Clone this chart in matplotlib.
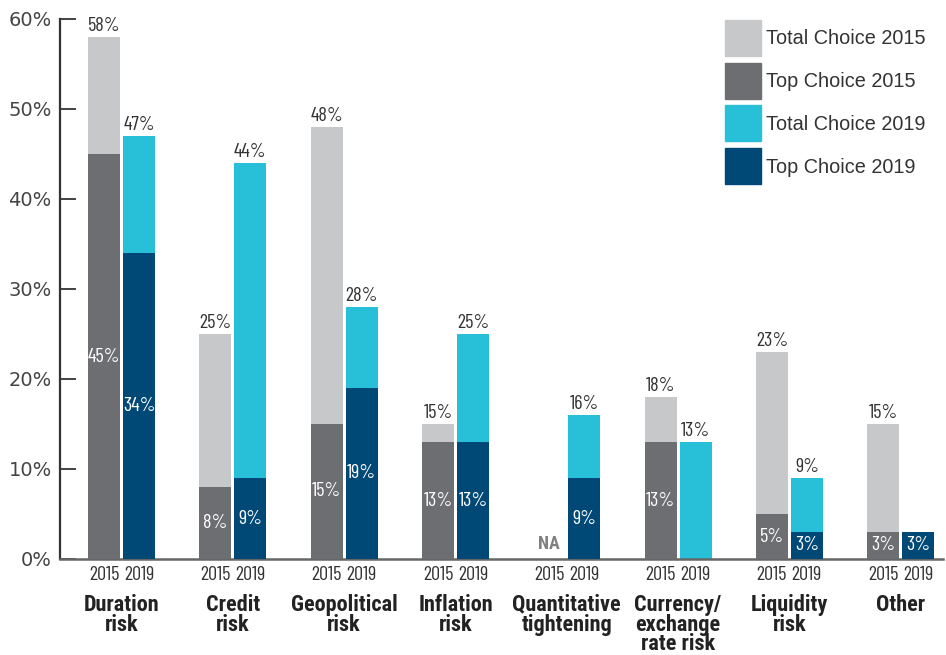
"""Risk concerns survey chart, 2015 vs 2019
"""
import matplotlib
matplotlib.use("Agg")
import matplotlib.pyplot as plt
from matplotlib import font_manager
from matplotlib.patches import Rectangle
import numpy as np

categories = ["Duration\nrisk", "Credit\nrisk", "Geopolitical\nrisk",
              "Inflation\nrisk", "Quantitative\ntightening",
              "Currency/\nexchange\nrate risk", "Liquidity\nrisk", "Other"]
years = ["2015", "2019"]
# None = no bar for that year
total_2015 = [58, 25, 48, 15, None, 18, 23, 15]
top_2015 = [45, 8, 15, 13, None, 13, 5, 3]
total_2019 = [47, 44, 28, 25, 16, 13, 9, None]
top_2019 = [34, 9, 19, 13, 9, None, 3, 3]
legend_labels = ["Total Choice 2015", "Top Choice 2015",
                 "Total Choice 2019", "Top Choice 2019"]
yticks = [0, 10, 20, 30, 40, 50, 60]

LIGHT_GRAY = "#c7c8ca"
DARK_GRAY = "#6d6e71"
CYAN = "#28c0d9"
NAVY = "#004876"
TEXT = "#333333"

installed = {f.name for f in font_manager.fontManager.ttflist}


def pick(name, fallback="Liberation Sans"):
    return name if name in installed else fallback


NUM_FONT = pick("Barlow Condensed")
BOLD_FONT = pick("Roboto Condensed")
REGULAR = "Liberation Sans"

fig = plt.figure(figsize=(9.46, 6.55), dpi=100)
W, H = 946, 655
ax = fig.add_axes([60 / W, 1 - 559 / H, 883 / W, 540 / H])

x = np.arange(len(categories))
width = 0.2875
off = 0.157


def draw_year(xpos, totals, tops, c_total, c_top):
    for xi, tot, top in zip(xpos, totals, tops):
        if tot is not None:
            ax.bar(xi, tot, width, color=c_total, zorder=2)
            ax.annotate(f"{tot}%", (xi, tot), xytext=(0, 1.5),
                        textcoords="offset points", ha="center", va="bottom",
                        fontsize=14.5, color=TEXT, family=NUM_FONT)
        if top is not None:
            ax.bar(xi, top, width, color=c_top, zorder=3)
            ax.text(xi, top / 2, f"{top}%", ha="center", va="center",
                    fontsize=14.5, color="white", family=NUM_FONT, zorder=4)


draw_year(x - off, total_2015, top_2015, LIGHT_GRAY, DARK_GRAY)
draw_year(x + off, total_2019, top_2019, CYAN, NAVY)

# no 2015 data for quantitative tightening
for xi, tot in zip(x - off, total_2015):
    if tot is None:
        ax.annotate("NA", (xi, 0), xytext=(0, 4), textcoords="offset points",
                    ha="center", va="bottom", fontsize=13, fontweight="bold",
                    color="#808080", family=BOLD_FONT)

ax.set_xlim(-0.5526, 7.38)
ax.set_ylim(0, 60)
ax.set_yticks(yticks, [f"{t}%" for t in yticks])
ax.tick_params(axis="y", direction="in", length=11.5, width=1.3,
               color="#333333", pad=6, labelsize=14, labelcolor="#444444")
for lab in ax.get_yticklabels():
    lab.set_family("DejaVu Sans")

xt = np.concatenate([x - off, x + off])
ax.set_xticks(xt, [years[0]] * len(x) + [years[1]] * len(x))
ax.tick_params(axis="x", length=0, pad=5, labelsize=14.5, labelcolor=TEXT)
for lab in ax.get_xticklabels():
    lab.set_family(NUM_FONT)

for xi, name in zip(x, categories):
    ax.text(xi, -0.064, name, transform=ax.get_xaxis_transform(),
            ha="center", va="top", fontsize=16, fontweight="bold",
            color="#222222", family=BOLD_FONT, linespacing=0.88)

for side in ("top", "right"):
    ax.spines[side].set_visible(False)
ax.spines["left"].set_color("#333333")
ax.spines["left"].set_linewidth(1.6)
ax.spines["bottom"].set_color("#666666")
ax.spines["bottom"].set_linewidth(1.8)

# legend drawn as squares in figure pixels
legend_colors = [LIGHT_GRAY, DARK_GRAY, CYAN, NAVY]
for k, (lab, col) in enumerate(zip(legend_labels, legend_colors)):
    top_px = 20 + k * 42.7
    fig.add_artist(Rectangle((725 / W, 1 - (top_px + 36) / H), 36 / W, 36 / H,
                             transform=fig.transFigure, color=col))
    fig.text(766 / W, 1 - (top_px + 19) / H, lab, ha="left", va="center",
             fontsize=14.3, color=TEXT, family=REGULAR)

fig.savefig("out.png", dpi=100)
